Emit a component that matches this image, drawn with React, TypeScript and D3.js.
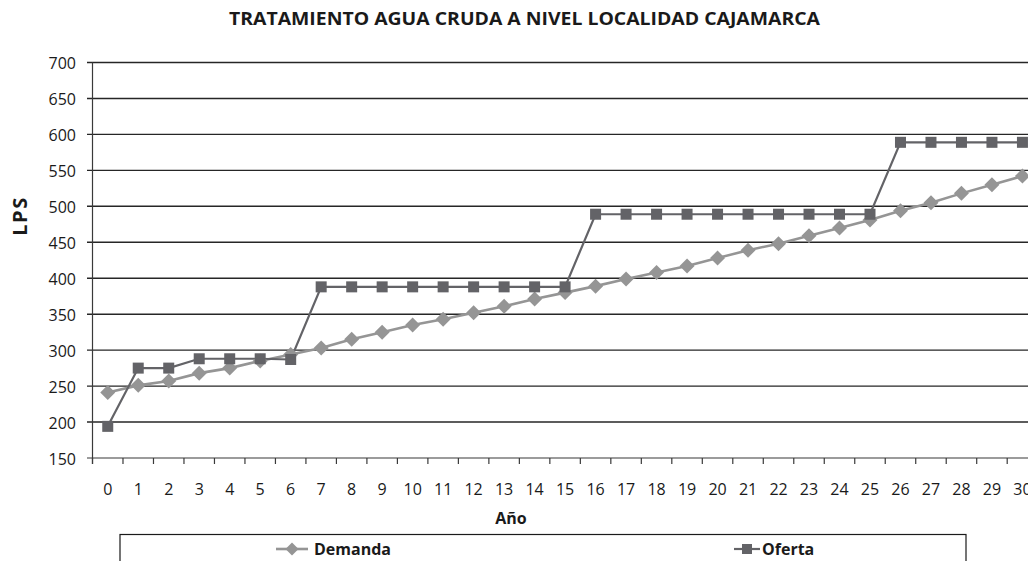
import React from "react";
import * as d3 from "d3";

const years: number[] = Array.from({ length: 31 }, (_, i) => i);
const demanda: number[] = [241, 251, 257, 268, 275, 285, 294, 303, 315, 325, 335, 343, 352, 361, 371, 380, 389, 399, 408, 417, 428, 439, 448, 459, 470, 481, 494, 505, 518, 530, 542];
const oferta: number[] = [194, 275, 275, 288, 288, 288, 287, 388, 388, 388, 388, 388, 388, 388, 388, 388, 489, 489, 489, 489, 489, 489, 489, 489, 489, 489, 589, 589, 589, 589, 589];
const yTicks: number[] = [150, 200, 250, 300, 350, 400, 450, 500, 550, 600, 650, 700];
const title = "TRATAMIENTO AGUA CRUDA A NIVEL LOCALIDAD CAJAMARCA";
const seriesNames = ["Demanda", "Oferta"];

const W = 1028;
const H = 561;
const FONT = "'Open Sans', 'DejaVu Sans', sans-serif";

export default function App() {
  const x = d3.scaleBand<number>().domain(years).range([92.5, 92.5 + 31 * 30.49]).padding(0);
  const y = d3.scaleLinear().domain([150, 700]).range([458, 62.5]);
  const cx = (d: number) => (x(d) as number) + x.bandwidth() / 2;
  const line = d3.line<number>().x((_, i) => cx(years[i])).y((v) => y(v));
  const bounds = [...years.map((d) => x(d) as number), (x(30) as number) + x.bandwidth()];
  const cDem = "#959595";
  const cOf = "#636367";
  const diamond = (px: number, py: number, r = 7.5) => `M${px},${py - r}L${px + r},${py}L${px},${py + r}L${px - r},${py}Z`;

  return (
    <svg width={W} height={H} style={{ position: "absolute", left: 0, top: 0, background: "#fff" }} fontFamily={FONT}>
      <rect x={0} y={0} width={W} height={H} fill="#fff" />
      <text x={524.5} y={25} textAnchor="middle" fontSize={17} fontWeight="bold" fill="#1a1a1a" textLength={591} lengthAdjust="spacingAndGlyphs">{title}</text>
      {yTicks.filter((t) => t > 150).map((t) => (
        <line key={t} x1={87} x2={W} y1={y(t)} y2={y(t)} stroke="#262626" strokeWidth={1.4} />
      ))}
      <line x1={87} x2={W} y1={y(150)} y2={y(150)} stroke="#7a7a7a" strokeWidth={1.4} />
      <line x1={92.5} x2={92.5} y1={y(700)} y2={464} stroke="#3a3a3a" strokeWidth={1.2} />
      {bounds.map((b, i) => (
        <line key={i} x1={b} x2={b} y1={458} y2={464} stroke="#3a3a3a" strokeWidth={1.2} />
      ))}
      {yTicks.map((t) => (
        <text key={t} x={76} y={y(t) + 6.5} textAnchor="end" fontSize={16} fill="#1a1a1a">{t}</text>
      ))}
      {years.map((d) => (
        <text key={d} x={cx(d)} y={495} textAnchor="middle" fontSize={16} fill="#1a1a1a">{d}</text>
      ))}
      <text x={511} y={524} textAnchor="middle" fontSize={16} fontWeight="bold" fill="#1a1a1a">Año</text>
      <text transform={`translate(27,216) rotate(-90)`} textAnchor="middle" fontSize={20} fontWeight="bold" fill="#1a1a1a" letterSpacing={1.5}>LPS</text>
      <path d={line(demanda) || ""} fill="none" stroke={cDem} strokeWidth={2.6} />
      <path d={line(oferta) || ""} fill="none" stroke={cOf} strokeWidth={2.2} />
      {demanda.map((v, i) => (
        <path key={"d" + i} d={diamond(cx(years[i]), y(v))} fill={cDem} />
      ))}
      {oferta.map((v, i) => (
        <rect key={"o" + i} x={cx(years[i]) - 5.5} y={y(v) - 5.5} width={11} height={11} fill={cOf} />
      ))}
      <rect x={120} y={534.5} width={846} height={40} fill="none" stroke="#1a1a1a" strokeWidth={1.2} />
      <line x1={276} x2={308} y1={549} y2={549} stroke={cDem} strokeWidth={2.6} />
      <path d={diamond(292, 549, 6.5)} fill={cDem} />
      <text x={314} y={555} fontSize={16} fontWeight="bold" fill="#1a1a1a">{seriesNames[0]}</text>
      <line x1={734} x2={760} y1={549} y2={549} stroke={cOf} strokeWidth={2.2} />
      <rect x={742} y={544} width={10} height={10} fill={cOf} />
      <text x={762} y={555} fontSize={16} fontWeight="bold" fill="#1a1a1a">{seriesNames[1]}</text>
    </svg>
  );
}
